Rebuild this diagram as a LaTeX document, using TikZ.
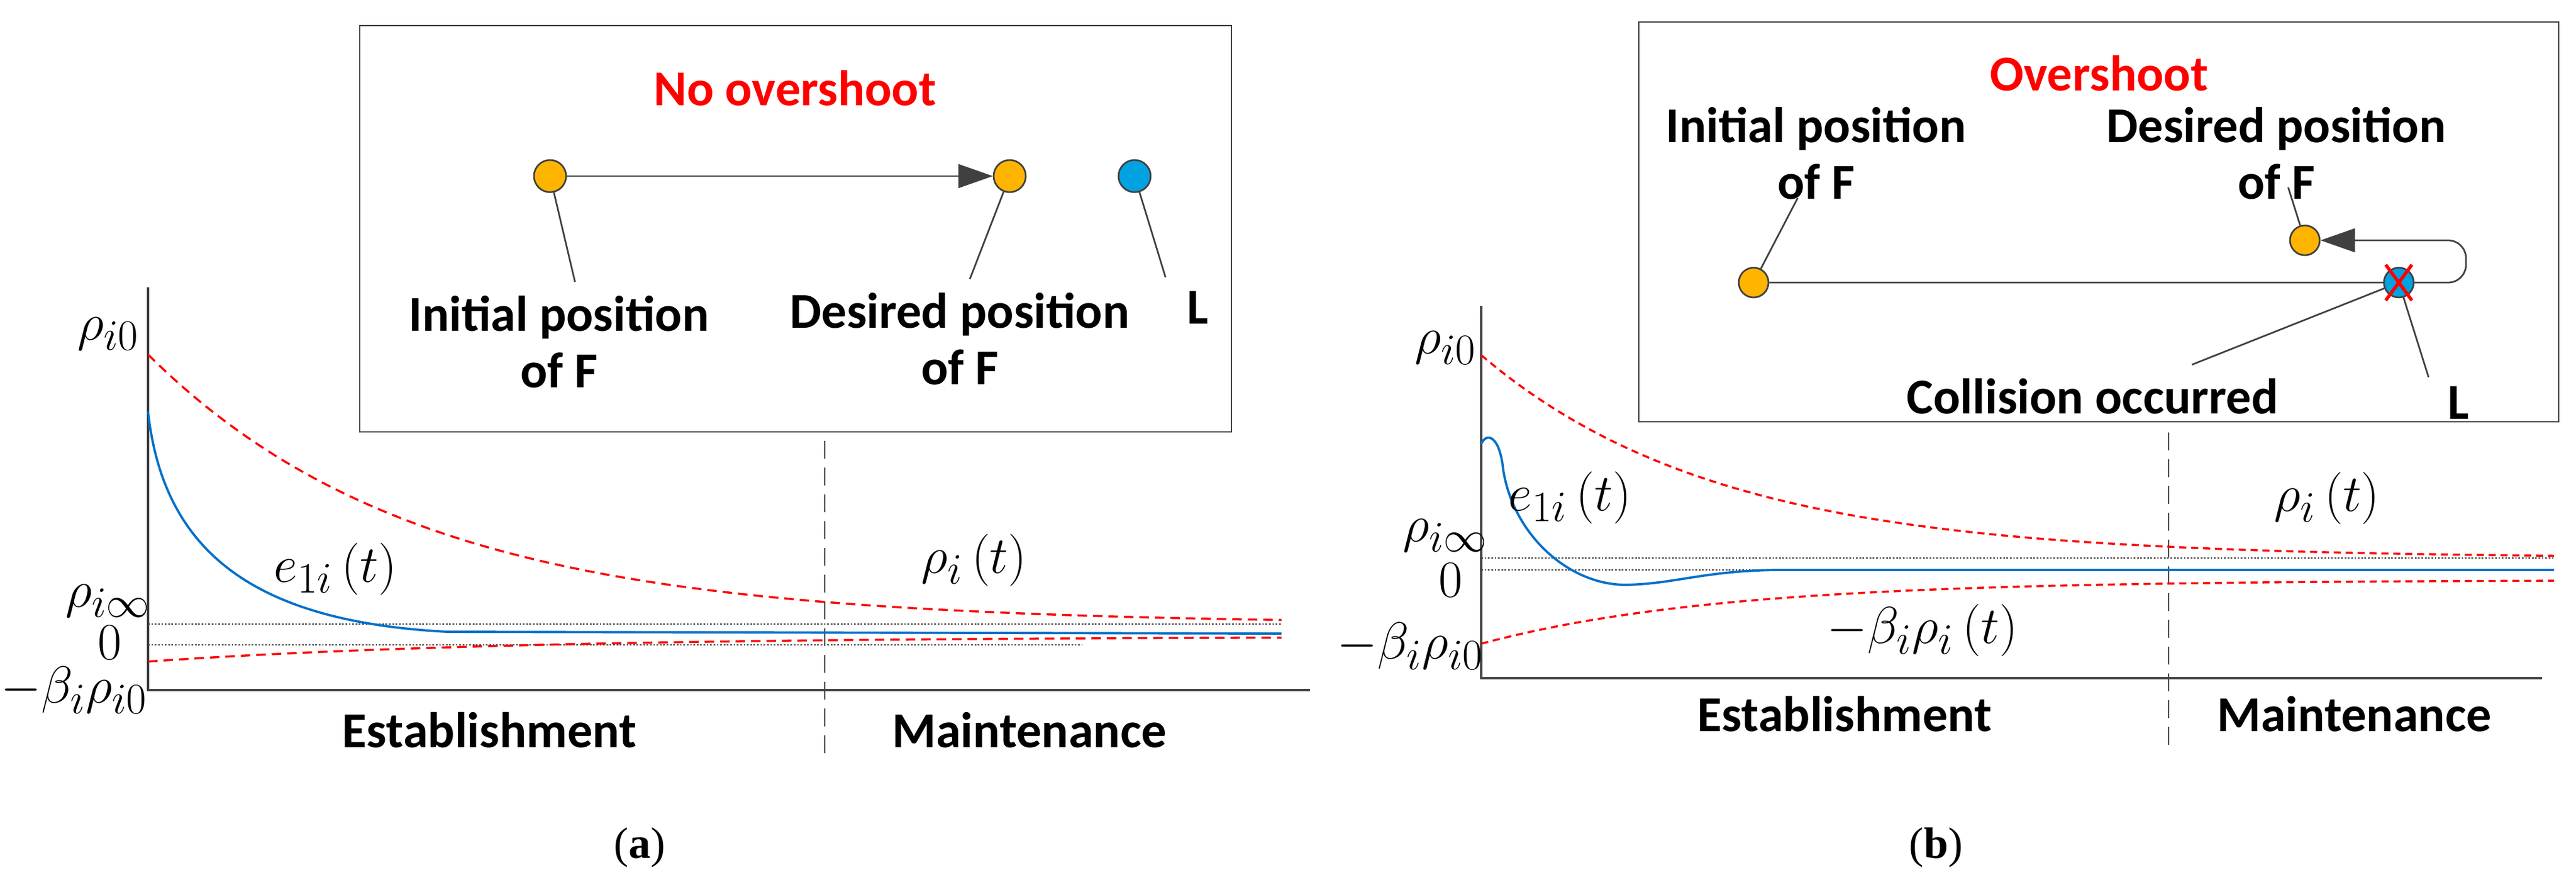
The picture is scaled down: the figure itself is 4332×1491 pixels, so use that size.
\documentclass[tikz,border=0pt]{standalone}
\usepackage{fontspec}
\setmainfont{Carlito}
\newfontfamily\serifA{Liberation Serif}
\usetikzlibrary{arrows.meta}
\definecolor{lg}{HTML}{404040}
\definecolor{fo}{HTML}{FFB400}
\definecolor{fb}{HTML}{00A2E2}
\definecolor{cb}{HTML}{0070C8}
\tikzset{
  lbl/.style={font=\fontsize{24}{27}\selectfont\bfseries,align=center,inner sep=0},
  ttl/.style={font=\fontsize{24}{27}\selectfont\bfseries,text=red,inner sep=0},
  mth/.style={font=\fontsize{32}{34}\selectfont,inner sep=0},
  subcap/.style={font=\fontsize{21}{24}\selectfont\serifA,inner sep=0},
  dot/.style={circle,draw=lg,line width=0.8pt,inner sep=0,minimum size=0.54cm},
  box/.style={draw=lg,line width=0.8pt},
  ax/.style={draw=lg,line width=1pt},
  ptr/.style={draw=lg,line width=0.8pt},
  rd/.style={draw=red,line width=1pt,dash pattern=on 0.16cm off 0.1cm},
  bl/.style={draw=cb,line width=1.1pt},
  dt/.style={draw=lg,line width=0.6pt,dash pattern=on 0.8pt off 0.8pt},
  vd/.style={draw=lg,line width=0.8pt,dash pattern=on 0.3cm off 0.15cm},
  tip/.style={-{Triangle[length=0.58cm,width=0.4cm]}}
}
\begin{document}
\begin{tikzpicture}[x=0.01cm,y=-0.01cm]
\useasboundingbox (0,0) rectangle (4332,1491);
% ---------------- panel (a) ----------------
\draw[box] (605,43) rectangle (2071,726);
\node[ttl] (ta) at (1337,148) {No overshoot};
\node[dot,fill=fo] (ia) at (925,296) {};
\node[dot,fill=fo] (da) at (1698,296) {};
\node[dot,fill=fb] (la) at (1908,296) {};
\draw[ptr,tip] (ia) -- (da);
\node[lbl] (tia) at (940,575) {Initial position\\of F};
\node[lbl] (tda) at (1614,570) {Desired position\\of F};
\node[lbl] (tla) at (2014,517) {L};
\coordinate (pia) at (967,474);
\coordinate (pda) at (1631,469);
\coordinate (pla) at (1960,466);
\draw[ptr] (ia) -- (pia);
\draw[ptr] (da) -- (pda);
\draw[ptr] (la) -- (pla);
% axes
\coordinate (oa) at (249,1160);
\draw[ax] (249,483) -- (oa) -- (2203,1160);
\draw[vd] (1387,741) -- (1387,1268);
\draw[dt] (249,1049) -- (2155,1049);
\draw[dt] (249,1084) -- (1819,1084);
\draw[rd] plot[domain=249:2155,samples=150] (\x,{1049-453*exp(-(\x-249)/455)});
\draw[rd] plot[domain=249:2155,samples=150] (\x,{1112-42*(1-exp(-(\x-249)/600))});
\draw[bl] (249,692) .. controls (275,930) and (430,1045) .. (752,1062) -- (2155,1065);
\node[mth] (a1) at (182,561) {$\rho_{i0}$};
\node[mth] (a2) at (182,1010) {$\rho_{i\infty}$};
\node[mth] (a3) at (185,1080) {$0$};
\node[mth] (a4) at (125,1160) {$-\beta_i\rho_{i0}$};
\node[mth] (a5) at (564,957) {$e_{1i}\left(t\right)$};
\node[mth] (a6) at (1638,942) {$\rho_i\left(t\right)$};
\node[lbl] (ea) at (823,1227) {Establishment};
\node[lbl] (ma) at (1731,1227) {Maintenance};
\node[subcap] (ca) at (1076,1425) {(\textbf{a})};
% ---------------- panel (b) ----------------
\draw[box] (2756,37) rectangle (4303,709);
\node[ttl] (tb) at (3530,123) {Overshoot};
\node[lbl] (tib) at (3054,258) {Initial position\\of F};
\node[lbl] (tdb) at (3828,258) {Desired position\\of F};
\node[dot,fill=fo,minimum size=0.5cm] (ib) at (2949,475) {};
\node[dot,fill=fo,minimum size=0.5cm] (db) at (3876,404) {};
\coordinate (kb) at (4147,475);
\coordinate (kt) at (4147,404);
\draw[ptr,tip,rounded corners=0.3cm] (ib) -- (kb) -- (kt) -- (db);
\node[dot,fill=fb,minimum size=0.5cm] (lb) at (4034,475) {};
\draw[red,line width=1.6pt] (4012,445) -- (4056,505) (4056,445) -- (4012,505);
\node[lbl] (tcb) at (3519,666) {Collision occurred};
\node[lbl] (tlb) at (4134,677) {L};
\coordinate (pib) at (3023,333);
\coordinate (pdb) at (3848,315);
\coordinate (pcb) at (3686,613);
\coordinate (plb) at (4084,634);
\draw[ptr] (ib) -- (pib);
\draw[ptr] (db) -- (pdb);
\draw[ptr] (lb) -- (pcb);
\draw[ptr] (lb) -- (plb);
\coordinate (ob) at (2491,1140);
\draw[ax] (2491,514) -- (ob) -- (4275,1140);
\draw[vd] (3647,727) -- (3647,1266);
\draw[dt] (2491,938) -- (4295,938);
\draw[dt] (2491,958) -- (4295,958);
\draw[rd,dash pattern=on 0.12cm off 0.08cm] plot[domain=2491:4295,samples=150] (\x,{938-341*exp(-(\x-2491)/400)});
\draw[rd,dash pattern=on 0.12cm off 0.08cm] plot[domain=2491:4295,samples=150] (\x,{975+107*exp(-(\x-2491)/400)});
\draw[bl] (2491,746) .. controls (2500,726) and (2522,732) .. (2528,790)
  .. controls (2545,900) and (2640,985) .. (2737,983)
  .. controls (2820,981) and (2870,958) .. (3000,958) -- (4295,958);
\node[mth] (b1) at (2431,585) {$\rho_{i0}$};
\node[mth] (b2) at (2431,900) {$\rho_{i\infty}$};
\node[mth] (b3) at (2440,975) {$0$};
\node[mth] (b4) at (2372,1086) {$-\beta_i\rho_{i0}$};
\node[mth] (b5) at (2640,837) {$e_{1i}\left(t\right)$};
\node[mth] (b6) at (3913,838) {$\rho_i\left(t\right)$};
\node[mth] (b7) at (3233,1060) {$-\beta_i\rho_i\left(t\right)$};
\node[lbl] (eb) at (3102,1200) {Establishment};
\node[lbl] (mb) at (3959,1200) {Maintenance};
\node[subcap] (cb2) at (3256,1425) {(\textbf{b})};
\end{tikzpicture}
\end{document}
